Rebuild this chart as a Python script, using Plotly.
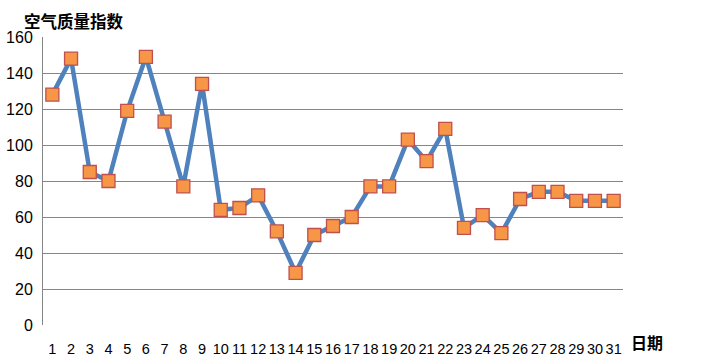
import plotly.graph_objects as go

days = list(range(1, 32))
aqi = [128, 148, 85, 80, 119, 149, 113, 77, 134, 64, 65, 72, 52, 29, 50, 55, 60,
       77, 77, 103, 91, 109, 54, 61, 51, 70, 74, 74, 69, 69, 69]
y_ticks = [0, 20, 40, 60, 80, 100, 120, 140, 160]
y_title = "空气质量指数"
x_title = "日期"

fig = go.Figure()
fig.add_trace(go.Scatter(
    x=days, y=aqi, mode="lines+markers",
    line=dict(color="#4F81BD", width=4.5),
    marker=dict(symbol="square", size=13, color="#F79646",
                line=dict(color="#C0504D", width=1.3)),
    showlegend=False,
))

fig.update_layout(
    width=715, height=363,
    margin=dict(l=43, r=92, t=37, b=38),
    paper_bgcolor="white", plot_bgcolor="white",
    font=dict(family="Liberation Sans, Noto Sans CJK SC", color="black"),
    xaxis=dict(range=[0.5, 31.5], tickmode="array", tickvals=days,
               ticktext=[str(d) for d in days], showgrid=False, zeroline=False,
               showline=False, ticks="", tickfont=dict(size=14.5),
               ticklabelstandoff=13, automargin=False),
    yaxis=dict(range=[0, 160], tickmode="array", tickvals=y_ticks,
               showgrid=True, gridcolor="#868686", gridwidth=1,
               zeroline=False, showline=True, linecolor="#868686", linewidth=1,
               ticks="", tickfont=dict(size=16), ticklabelstandoff=6,
               automargin=False),
    annotations=[
        dict(text="<b>" + y_title + "</b>", xref="paper", yref="paper",
             x=-0.036, y=1.0, yshift=16, xanchor="left", yanchor="middle",
             showarrow=False, font=dict(size=16.5, family="Noto Sans CJK SC")),
        dict(text="<b>" + x_title + "</b>", xref="paper", yref="paper",
             x=1.0, y=0, xshift=6, yshift=-17, xanchor="left", yanchor="middle",
             showarrow=False, font=dict(size=16, family="Noto Sans CJK SC")),
    ],
)

fig.write_html("out.html")
